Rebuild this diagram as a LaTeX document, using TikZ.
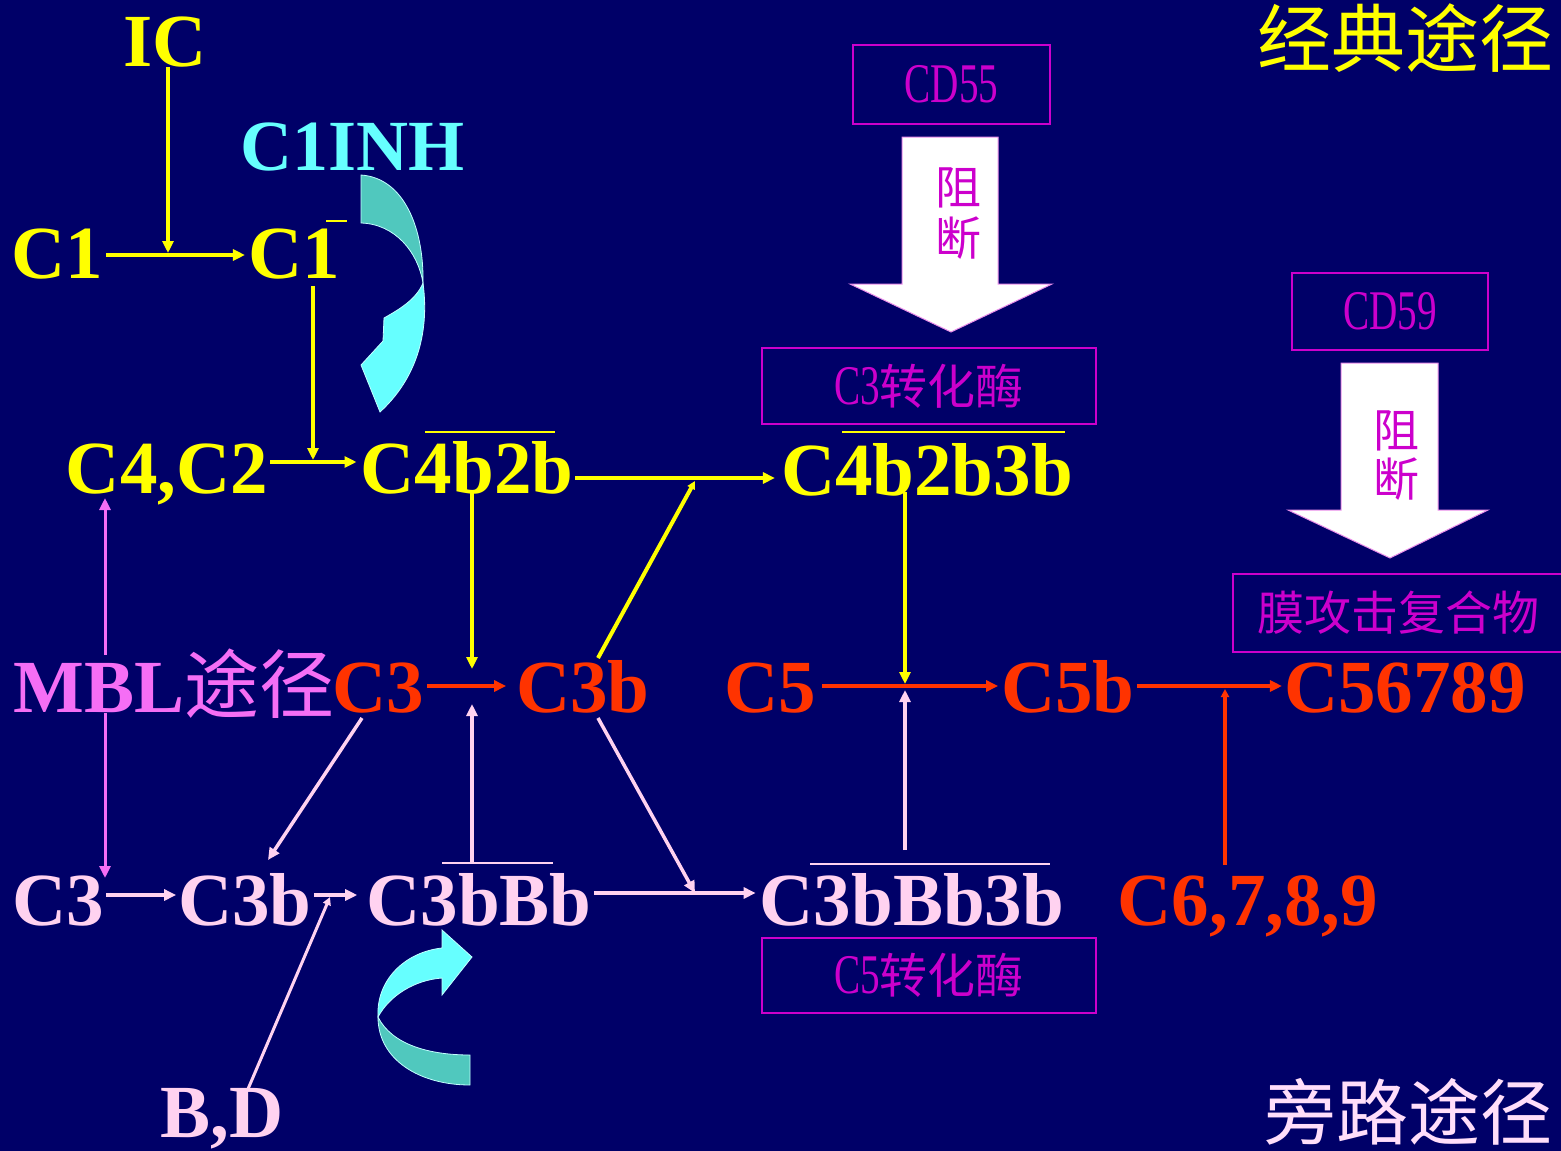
\documentclass[tikz,border=0pt]{standalone}
\usepackage{graphicx}
\usepackage{fontspec}
\setmainfont{Liberation Serif}
\newfontfamily\cjk{Noto Sans CJK SC}
\usetikzlibrary{arrows.meta,calc}

\definecolor{bgnavy}{RGB}{0,0,104}
\definecolor{cyel}{RGB}{255,255,0}
\definecolor{cred}{RGB}{255,51,0}
\definecolor{cpink}{RGB}{255,210,240}
\definecolor{cviolet}{RGB}{245,110,245}
\definecolor{ccyan}{RGB}{102,255,255}
\definecolor{cteal}{RGB}{80,200,190}
\definecolor{cmag}{RGB}{204,0,204}
\definecolor{cside}{RGB}{255,222,250}

\begin{document}
\begin{tikzpicture}[x=1pt,y=-1pt,
  lbl/.style={inner sep=0pt,anchor=base,font=\fontsize{75}{75}\selectfont\bfseries},
  tri/.style={-{Triangle[length=12pt,width=11pt]}},
  smalltri/.style={-{Triangle[length=8pt,width=8pt]}},
  ylw/.style={draw=cyel,line width=4pt,tri},
  rdl/.style={draw=cred,line width=4pt,tri},
  pkl/.style={draw=cpink,line width=3.5pt,tri},
  vil/.style={draw=cviolet,line width=3pt,tri},
  ovl/.style={line width=2pt},
  magbox/.style={draw=cmag,line width=2pt,inner sep=0pt,text=cmag},
  blockarrow/.style={fill=white,draw=cmag!45!white,line width=1pt},
  cjktxt/.style={inner sep=0pt,text=cmag,font=\fontsize{46}{46}\selectfont\cjk},
  boxfont/.style={font=\fontsize{56}{56}\selectfont},
  curl/.style={draw=ccyan!40!white,line width=0.8pt},
]
\fill[bgnavy] (0,0) rectangle (1561,1151);
\useasboundingbox (0,0) rectangle (1561,1151);

% section titles
\node[inner sep=0pt,text=cyel,font=\fontsize{74}{74}\selectfont\cjk] (classic) at (1405,38) {经典途径};
\node[inner sep=0pt,text=cside,font=\fontsize{72}{72}\selectfont\cjk] (altern) at (1408,1112) {旁路途径};

% classical pathway
\node[lbl,text=cyel] (ic) at (165,66) {IC};
\node[lbl,text=cyel] (c1) at (57,278) {C1};
\node[lbl,text=cyel] (c1a) at (294,278) {C1};
\node[lbl,text=ccyan,font=\fontsize{72}{72}\selectfont\bfseries] (c1inh) at (353,170) {C1INH};
\node[lbl,text=cyel] (c4c2) at (167,493) {C4,C2};
\node[lbl,text=cyel] (c4b2b) at (467,493) {C4b2b};
\node[lbl,text=cyel] (c4b2b3b) at (927,495) {C4b2b3b};

% terminal pathway
\node[lbl,text=cviolet] (mbl) at (174,712) {MBL{\mdseries\cjk 途径}};
\node[lbl,text=cred] (c3r) at (378,712) {C3};
\node[lbl,text=cred] (c3br) at (583,712) {C3b};
\node[lbl,text=cred] (c5) at (770,712) {C5};
\node[lbl,text=cred] (c5b) at (1068,712) {C5b};
\node[lbl,text=cred] (c56789) at (1405,712) {C56789};

% alternative pathway
\node[lbl,text=cpink] (c3p) at (58,925) {C3};
\node[lbl,text=cpink] (c3bp) at (245,925) {C3b};
\node[lbl,text=cpink] (c3bbb) at (479,925) {C3bBb};
\node[lbl,text=cpink] (c3bbb3b) at (912,925) {C3bBb3b};
\node[lbl,text=cred] (c6789) at (1248,925) {C6,7,8,9};
\node[lbl,text=cpink] (bd) at (222,1137) {B,D};

% bars over the active complexes
\draw[ovl,cyel] (326,221) -- (347,221);
\draw[ovl,cyel] (425,432) -- (555,432);
\draw[ovl,cyel] (842,432) -- (1065,432);
\draw[ovl,cpink] (442,863) -- (553,863);
\draw[ovl,cpink] (810,864) -- (1050,864);

% junction points
\coordinate (jIC) at (168,255);
\coordinate (jC1) at (313,462);
\coordinate (jC3) at (695,478);
\coordinate (jA) at (472,686);
\coordinate (jB) at (905,686);
\coordinate (jC) at (1225,686);
\coordinate (jBD) at (330,895);
\coordinate (jE) at (695,893);
\coordinate (vx) at (105,0);

% classical connectors
\draw[ylw] (ic.south -| jIC) -- ($(jIC)+(0,-2)$);
\draw[ylw,shorten <=3pt,shorten >=3pt] (c1.east |- jIC) -- (c1a.west |- jIC);
\draw[ylw] ($(c1a.base -| jC1)+(0,8)$) -- ($(jC1)+(0,-2)$);
\draw[ylw,shorten <=2pt,shorten >=4pt] (c4c2.east |- jC1) -- (c4b2b.west |- jC1);
\draw[ylw,shorten <=2pt,shorten >=6pt] (c4b2b.east |- jC3) -- (c4b2b3b.west |- jC3);
\draw[draw=cyel,line width=4pt,smalltri] ($(c3br.base)+(15,-54)$) -- ($(jC3)+(0,3)$);
\draw[ylw] ($(c4b2b.base -| jA)+(0,-2)$) -- ($(jA)+(0,-17)$);
\draw[ylw] ($(c4b2b3b.base -| jB)+(0,-3)$) -- ($(jB)+(0,-2)$);

% terminal connectors
\draw[rdl,shorten <=3pt,shorten >=10pt] (c3r.east |- jA) -- (c3br.west |- jA);
\draw[rdl,shorten <=6pt,shorten >=3pt] (c5.east |- jB) -- (c5b.west |- jB);
\draw[rdl,shorten <=2pt,shorten >=2pt] (c5b.east |- jC) -- (c56789.west |- jC);
\draw[draw=cred,line width=4pt,smalltri] ($(c6789.base -| jC)+(0,-60)$) -- ($(jC)+(0,3)$);

% lectin pathway branch
\draw[vil] ($(mbl.base -| vx)+(0,-57)$) -- ($(c4c2.base -| vx)+(0,5)$);
\draw[vil] ($(mbl.base -| vx)+(0,1)$) -- ($(c3p.base -| vx)+(0,-47)$);

% alternative connectors
\draw[pkl,shorten <=2pt,shorten >=2pt] (c3p.east |- jBD) -- (c3bp.west |- jBD);
\draw[pkl,shorten <=2pt,shorten >=9pt] (c3bp.east |- jBD) -- (c3bbb.west |- jBD);
\draw[draw=cpink,line width=3pt,smalltri] ($(bd.base)+(26,-48)$) -- ($(jBD)+(0,2)$);
\draw[pkl] ($(c3r.base)+(-16,6)$) -- ($(c3bp.base)+(23,-65)$);
\draw[pkl] ($(c3br.base)+(15,6)$) -- (jE);
\draw[pkl] ($(c3bbb.base -| jA)+(0,-63)$) -- ($(jA)+(0,18)$);
\draw[pkl] ($(c3bbb3b.base -| jB)+(0,-75)$) -- ($(jB)+(0,4)$);
\draw[pkl,shorten <=2pt,shorten >=4pt] (c3bbb.east |- jE) -- (c3bbb3b.west |- jE);

% regulators: boxes and blocking arrows
\node[magbox,boxfont,minimum width=197pt,minimum height=79pt] (cd55) at (951.5,84.5) {\scalebox{0.7}[1]{CD55}};
\filldraw[blockarrow] (902,137) -- (998,137) -- (998,284) -- (1052,284) -- (951,332) -- (850,284) -- (902,284) -- cycle;
\node[cjktxt] (zu1) at (958,188) {阻};
\node[cjktxt] (duan1) at (958,238) {断};
\node[magbox,boxfont,minimum width=334pt,minimum height=76pt] (c3conv) at (929,386) {\scalebox{0.7}[1]{C3}{\fontsize{48}{48}\selectfont\cjk 转化酶}};
\node[magbox,boxfont,minimum width=334pt,minimum height=75pt] (c5conv) at (929,975.5) {\scalebox{0.7}[1]{C5}{\fontsize{48}{48}\selectfont\cjk 转化酶}};

\node[magbox,boxfont,minimum width=196pt,minimum height=77pt] (cd59) at (1390,311.5) {\scalebox{0.7}[1]{CD59}};
\filldraw[blockarrow] (1341,363) -- (1438,363) -- (1438,510) -- (1488,510) -- (1390,558) -- (1288,510) -- (1341,510) -- cycle;
\node[cjktxt] (zu2) at (1396,431) {阻};
\node[cjktxt] (duan2) at (1396,479) {断};
\node[magbox,minimum width=330pt,minimum height=78pt,anchor=west,font=\fontsize{47}{47}\selectfont\cjk] (mac) at (1232,613) {膜攻击复合物};

% curved inhibition / amplification arrows
\filldraw[curl,fill=cteal] (361,175) .. controls (405,178) and (424,230) .. (423,283) .. controls (418,252) and (395,224) .. (361,223) -- cycle;
\filldraw[curl,fill=ccyan] (423,283) .. controls (430,335) and (415,380) .. (380,412) -- (361,365) -- (383,341) -- (384,318) .. controls (398,310) and (416,300) .. (423,283) -- cycle;
\filldraw[curl,fill=cteal] (470,1085) .. controls (420,1085) and (378,1060) .. (378,1017) .. controls (392,1045) and (430,1055) .. (470,1055) -- cycle;
\filldraw[curl,fill=ccyan] (378,1017) .. controls (376,980) and (405,952) .. (442,948) -- (442,930) -- (472,957) -- (442,995) -- (442,978) .. controls (415,980) and (390,995) .. (378,1017) -- cycle;
\end{tikzpicture}
\end{document}
